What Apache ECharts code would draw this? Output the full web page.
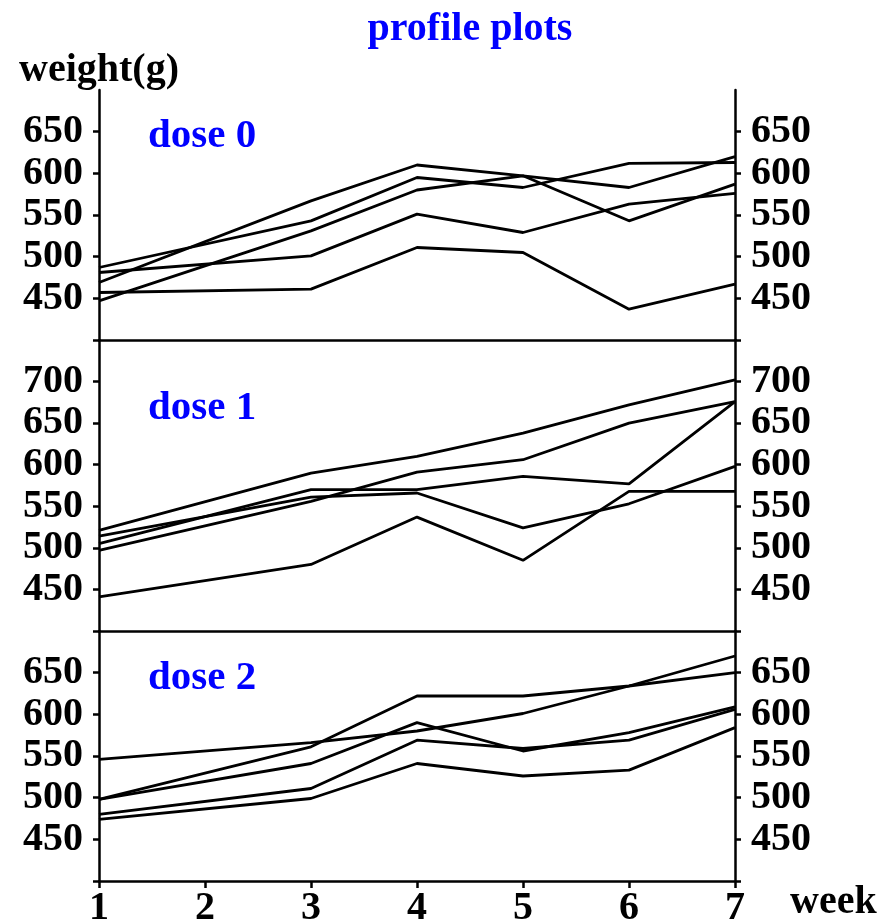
<!DOCTYPE html>
<html>
<head>
<meta charset="utf-8">
<script src="https://cdn.jsdelivr.net/npm/echarts@6/dist/echarts.min.js"></script>
<style>
  html, body { margin: 0; padding: 0; background: #fff; }
  #main { width: 883px; height: 922px; }
</style>
</head>
<body>
<div id="main"></div>
<script>
// weeks measured (no week 2 measurement)
var weeks = [1, 3, 4, 5, 6, 7];

// dose 0
var d0a = [469, 567, 610, 597, 543, 587];
var d0b = [487, 543, 595, 583, 612, 613];
var d0c = [447, 531, 580, 597, 583, 620];
var d0d = [481, 501, 551, 529, 563, 576];
var d0e = [457, 461, 511, 505, 437, 467];
// dose 1
var d1a = [521, 590, 610, 638, 672, 702];
var d1b = [514, 561, 566, 524, 553, 598];
var d1c = [505, 570, 570, 586, 577, 676];
var d1d = [497, 556, 591, 606, 650, 676];
var d1e = [441, 480, 537, 485, 568, 568];
// dose 2
var d2a = [546, 566, 580, 601, 634, 670];
var d2b = [498, 561, 622, 622, 634, 650];
var d2c = [498, 541, 590, 556, 578, 609];
var d2d = [480, 511, 569, 559, 569, 606];
var d2e = [474, 499, 541, 526, 533, 584];

var labels0 = [450, 500, 550, 600, 650];
var labels1 = [450, 500, 550, 600, 650, 700];
var labels2 = [450, 500, 550, 600, 650];

var FONT = 'Liberation Serif';
var BLUE = '#0000ff';

var panels = [
  {data: [d0a, d0b, d0c, d0d, d0e], min: 400, max: 700, labels: labels0, top: 90, height: 250, name: 'dose 0', ny: 136},
  {data: [d1a, d1b, d1c, d1d, d1e], min: 400, max: 750, labels: labels1, top: 340, height: 291, name: 'dose 1', ny: 408},
  {data: [d2a, d2b, d2c, d2d, d2e], min: 400, max: 700, labels: labels2, top: 631, height: 250, name: 'dose 2', ny: 678}
];

var axisLine = {show: true, lineStyle: {color: '#000', width: 2.5}};
var labelStyle = {color: '#000', fontFamily: FONT, fontWeight: 'bold', fontSize: 40};
var nameFont = 'bold 41px "' + FONT + '"';

var grid = [], xAxis = [], yAxis = [], series = [], graphic = [];
panels.forEach(function (p, i) {
  grid.push({left: 99, width: 636, top: p.top, height: p.height, outerBoundsMode: 'none', containLabel: false});
  var last = i === panels.length - 1;
  xAxis.push({
    type: 'value', gridIndex: i, min: 1, max: 7, interval: 1,
    axisLine: axisLine,
    axisTick: {show: last, length: 7, lineStyle: {width: 2.5, color: '#000'}},
    axisLabel: Object.assign({show: last, margin: 8}, labelStyle),
    splitLine: {show: false},
    name: last ? 'week' : '',
    nameLocation: 'end', nameGap: 55,
    nameTextStyle: Object.assign({verticalAlign: 'top', padding: [2, 0, 0, 0]}, labelStyle)
  });
  var ticks = [];
  for (var v = p.min; v < p.max; v += 50) ticks.push(v);
  ['left', 'right'].forEach(function (pos) {
    var y = {
      type: 'value', gridIndex: i, position: pos, min: p.min, max: p.max, interval: 50,
      axisLine: axisLine,
      axisTick: {show: true, length: 6, customValues: ticks, lineStyle: {width: 2.5, color: '#000'}},
      axisLabel: Object.assign({margin: 16, padding: [4, 0, 0, 0], customValues: p.labels, formatter: function (val) {
        return p.labels.indexOf(val) >= 0 ? String(val) : '';
      }}, labelStyle),
      splitLine: {show: false}
    };
    if (i === 0 && pos === 'left') {
      y.name = 'weight(g)';
      y.nameLocation = 'end';
      y.nameGap = -1;
      y.nameTextStyle = labelStyle;
    }
    yAxis.push(y);
  });
  p.data.forEach(function (arr) {
    series.push({
      type: 'line', xAxisIndex: i, yAxisIndex: i * 2,
      symbol: 'none', silent: true,
      lineStyle: {color: '#000', width: 2.8},
      data: weeks.map(function (w, k) { return [w, arr[k]]; })
    });
  });
  graphic.push({type: 'text', x: 148, y: p.ny, style: {text: p.name, fill: BLUE, font: nameFont, align: 'left', verticalAlign: 'middle'}});
});

graphic.push({type: 'text', x: 470, y: 30, style: {text: 'profile plots', fill: BLUE, font: 'bold 40px "' + FONT + '"', align: 'center', verticalAlign: 'middle'}});

var chart = echarts.init(document.getElementById('main'));
chart.setOption({
  animation: false,
  backgroundColor: '#fff',
  grid: grid,
  xAxis: xAxis,
  yAxis: yAxis,
  series: series,
  graphic: graphic
});
</script>
</body>
</html>
